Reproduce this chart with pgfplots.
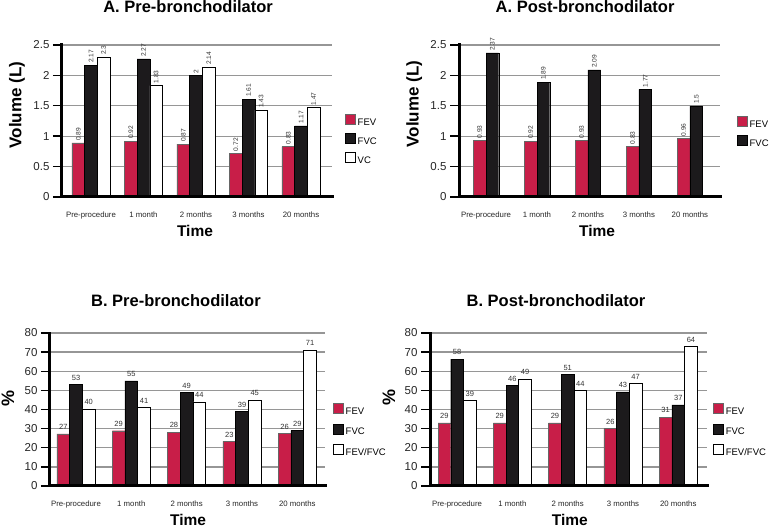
\documentclass[border=0pt]{standalone}
\usepackage{pgfplots}
\pgfplotsset{compat=1.18}
\usepackage{fontspec}
\setmainfont{Liberation Sans}
\definecolor{fevred}{RGB}{200,30,72}
\definecolor{fvcblack}{RGB}{28,26,28}
\definecolor{gridgray}{RGB}{150,150,150}
\newcommand{\fs}[1]{\fontsize{#1}{#1}\selectfont}
\tikzset{
  fev/.style={fill=fevred, draw=black!60, line width=0.4pt},
  fvc/.style={fill=fvcblack, draw=black, line width=0.4pt},
  vcw/.style={fill=white, draw=black, line width=0.6pt},
}
\pgfplotsset{
  panel/.style={
    scale only axis, anchor=south west, clip=false,
    axis x line*=bottom, axis y line*=left,
    axis line style={line width=3pt, black},
    ymajorgrids, major grid style={draw=gridgray, line width=1.3pt},
    tick align=outside, major tick length=9pt,
    every tick/.style={draw=black, line width=1.4pt},
    ytick style={draw=black, line width=1.4pt},
    xtick style={draw=none},
    xtick={0,1,2,3,4},
    xticklabels={Pre-procedure,1 month,2 months,3 months,20 months},
    x tick label style={font=\fs{7.8}, text=black!85, yshift=-2pt},
    y tick label style={font=\fs{11.5}, text=black!85},
    /pgf/number format/assume math mode=true,
    ybar=0pt, bar width=12.7pt,
    point meta=explicit symbolic,
    nodes near coords,
    legend style={draw=none, fill=none, inner sep=0pt, anchor=north west, font=\fs{9.5}, nodes={inner sep=0pt}, row sep=6pt},
    legend cell align=left,
    legend image code/.code={\draw[##1,line width=0.5pt] (0pt,-1.5pt) rectangle (10pt,8.5pt); \path (12pt,0pt);},
  },
  voltick/.style={
    ymin=0, ymax=2.5, ytick={0,0.5,1,1.5,2,2.5},
    every node near coord/.append style={rotate=90, anchor=west, font=\fs{6.6}, text=black!80, inner sep=2pt},
  },
  pcttick/.style={
    ymin=0, ymax=80, ytick={0,10,...,80},
    every node near coord/.append style={anchor=south, font=\fs{7.5}, text=black!80, inner sep=4pt},
  },
}
% axis frame (left and bottom) and outward y ticks, drawn on top of the bars
\newcommand{\axislines}[1]{%
  \pgfplotsinvokeforeach{#1}{\draw[black, line width=1.4pt] (rel axis cs:0,##1) -- ++(-9pt,0pt);}%
  \draw[black, line width=3pt, line cap=rect] (rel axis cs:0,1) -- (rel axis cs:0,0) -- (rel axis cs:1,0);%
}
\begin{document}
\begin{tikzpicture}

% ---------- A. Pre-bronchodilator ----------
\begin{axis}[panel, voltick, at={(62pt,332pt)}, width=270pt, height=152pt,
  xmin=-0.552, xmax=4.59,
  every axis title/.style={at={(axis description cs:0.467,1)}, anchor=base, yshift=32.3pt, font=\bfseries\fs{16.5}},
  every axis y label/.style={at={(axis description cs:-0.167,0.605)}, rotate=90, anchor=center, font=\bfseries\fs{17}},
  every axis x label/.style={at={(axis description cs:0.4926,0)}, anchor=base, yshift=-40pt, font=\bfseries\fs{15.5}},
  title={A. Pre-bronchodilator}, ylabel={Volume (L)}, xlabel={Time},
  legend style={at={(axis description cs:1.048,0.546)}},
]
\addplot[fev] coordinates {(0,0.89) [0.89] (1,0.92) [0.92] (2,0.87) [0.87] (3,0.72) [0.72] (4,0.83) [0.83]};
\addplot[fvc] coordinates {(0,2.17) [2.17] (1,2.27) [2.27] (2,2.00) [2] (3,1.61) [1.61] (4,1.17) [1.17]};
\addplot[vcw] coordinates {(0,2.30) [2.3] (1,1.83) [1.83] (2,2.14) [2.14] (3,1.43) [1.43] (4,1.47) [1.47]};
\legend{FEV,FVC,VC}
\axislines{0,0.2,0.4,0.6,0.8,1}
\end{axis}

% ---------- A. Post-bronchodilator ----------
\begin{axis}[panel, voltick, at={(459pt,332pt)}, width=261pt, height=152pt,
  xmin=-0.53, xmax=4.59,
  every axis title/.style={at={(axis description cs:0.483,1)}, anchor=base, yshift=32.3pt, font=\bfseries\fs{16.5}},
  every axis y label/.style={at={(axis description cs:-0.172,0.612)}, rotate=90, anchor=center, font=\bfseries\fs{17}},
  every axis x label/.style={at={(axis description cs:0.529,0)}, anchor=base, yshift=-40pt, font=\bfseries\fs{15.5}},
  title={A. Post-bronchodilator}, ylabel={Volume (L)}, xlabel={Time},
  legend style={at={(axis description cs:1.065,0.533)}},
]
\addplot[fev] coordinates {(0,0.93) [0.93] (1,0.92) [0.92] (2,0.93) [0.93] (3,0.83) [0.83] (4,0.96) [0.96]};
\addplot[fvc] coordinates {(0,2.37) [2.37] (1,1.89) [1.89] (2,2.09) [2.09] (3,1.77) [1.77] (4,1.50) [1.5]};
\legend{FEV,FVC}
\axislines{0,0.2,0.4,0.6,0.8,1}
\end{axis}

% ---------- B. Pre-bronchodilator ----------
\begin{axis}[panel, pcttick, at={(50pt,43pt)}, width=275pt, height=153pt,
  xmin=-0.47, xmax=4.50,
  every axis title/.style={at={(axis description cs:0.458,1)}, anchor=base, yshift=27pt, font=\bfseries\fs{16.5}},
  every axis y label/.style={at={(axis description cs:-0.153,0.575)}, rotate=90, anchor=center, font=\bfseries\fs{18}},
  every axis x label/.style={at={(axis description cs:0.502,0)}, anchor=base, yshift=-40pt, font=\bfseries\fs{15.5}},
  title={B. Pre-bronchodilator}, ylabel={\%}, xlabel={Time},
  legend style={at={(axis description cs:1.029,0.542)}, row sep=7.5pt},
]
\addplot[fev] coordinates {(0,27.3) [27] (1,28.9) [29] (2,28.1) [28] (3,23.3) [23] (4,27.4) [26]};
\addplot[fvc] coordinates {(0,53) [53] (1,55) [55] (2,49) [49] (3,39) [39] (4,29) [29]};
\addplot[vcw] coordinates {(0,40.3) [40] (1,41) [41] (2,44) [44] (3,45) [45] (4,71) [71]};
\legend{FEV,FVC,FEV/FVC}
\axislines{0,0.125,0.25,0.375,0.5,0.625,0.75,0.875,1}
\end{axis}

% ---------- B. Post-bronchodilator ----------
\begin{axis}[panel, pcttick, at={(430pt,43pt)}, width=277pt, height=153pt,
  xmin=-0.49, xmax=4.52,
  every axis title/.style={at={(axis description cs:0.455,1)}, anchor=base, yshift=27pt, font=\bfseries\fs{16.5}},
  every axis y label/.style={at={(axis description cs:-0.148,0.58)}, rotate=90, anchor=center, font=\bfseries\fs{18}},
  every axis x label/.style={at={(axis description cs:0.505,0)}, anchor=base, yshift=-40pt, font=\bfseries\fs{15.5}},
  title={B. Post-bronchodilator}, ylabel={\%}, xlabel={Time},
  legend style={at={(axis description cs:1.022,0.542)}, row sep=7.5pt},
]
\addplot[fev] coordinates {(0,33) [29] (1,33) [29] (2,33) [29] (3,30) [26] (4,36) [31]};
\addplot[fvc] coordinates {(0,66.3) [58] (1,52.5) [46] (2,58.3) [51] (3,49.2) [43] (4,42.4) [37]};
\addplot[vcw] coordinates {(0,44.7) [39] (1,56) [49] (2,50) [44] (3,53.6) [47] (4,73) [64]};
\legend{FEV,FVC,FEV/FVC}
\axislines{0,0.125,0.25,0.375,0.5,0.625,0.75,0.875,1}
\end{axis}

\pgfresetboundingbox
\path (0pt,0pt) rectangle (771pt,529pt);
\end{tikzpicture}
\end{document}
